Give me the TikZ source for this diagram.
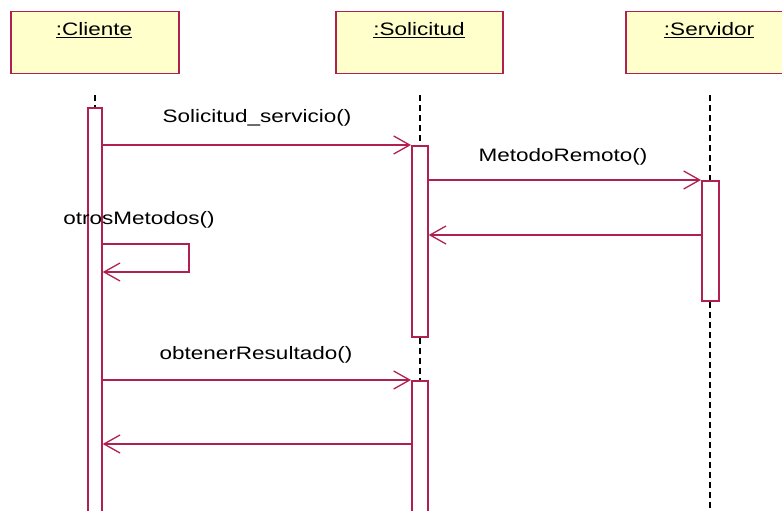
\documentclass[tikz,border=0pt]{standalone}
\usepackage{fontspec}
\setmainfont{Liberation Sans}[FakeStretch=1.25]
\usetikzlibrary{arrows.meta}
\definecolor{umlred}{RGB}{176,32,80}
\definecolor{umlyellow}{RGB}{255,255,204}
\tikzset{
  objbox/.style={draw=umlred, fill=umlyellow, line width=1.5pt, minimum height=62pt, anchor=north west, inner sep=0},
  actbar/.style={draw=umlred, fill=white, line width=1.7pt, anchor=north west, inner sep=0},
  lifeline/.style={dash pattern=on 6pt off 4pt, line width=1.1pt},
  msg/.style={draw=umlred, line width=1.4pt, -{Straight Barb[length=16pt,width=18pt,line width=1.3pt]}},
  lbl/.style={font=\fontsize{18}{20}\selectfont, inner sep=0}
}
\begin{document}
\begin{tikzpicture}[x=1pt, y=-1pt]
  \useasboundingbox (0,0) rectangle (782,511);
  \clip (0,0) rectangle (782,511);

  % Object heads
  \node[objbox, minimum width=168pt] (cliente) at (10,11) {};
  \node[objbox, minimum width=167pt] (solicitud) at (335,11) {};
  \node[objbox, minimum width=170pt] (servidor) at (625,11) {};
  \node[lbl] (clienteT) at (94,30) {\underline{:Cliente}};
  \node[lbl] (solicitudT) at (419,30) {\underline{:Solicitud}};
  \node[lbl] (servidorT) at (709,30) {\underline{:Servidor}};

  % Activation bars
  \node[actbar, minimum width=14pt, minimum height=410pt] (cbar) at (87,107) {};
  \node[actbar, minimum width=16pt, minimum height=191pt] (sbar1) at (411,145) {};
  \node[actbar, minimum width=16pt, minimum height=135pt] (sbar2) at (411,380) {};
  \node[actbar, minimum width=17pt, minimum height=120pt] (vbar) at (701,180) {};

  % Lifelines
  \coordinate (cl) at (95,95);
  \coordinate (sl) at (420,95);
  \coordinate (vl) at (710,95);
  \coordinate (vend) at (710,515);
  \draw[lifeline] (cl) -- (cl |- cbar.north);
  \draw[lifeline] (sl) -- (sl |- sbar1.north);
  \draw[lifeline] (sl |- sbar1.south) -- (sl |- sbar2.north);
  \draw[lifeline] (vl) -- (vl |- vbar.north);
  \draw[lifeline] (vl |- vbar.south) -- (vend);

  % Messages
  \coordinate (ret1) at (0,235);
  \coordinate (self1) at (189,244);
  \coordinate (self2) at (189,272);
  \coordinate (ret2) at (0,444);
  \draw[msg] (cbar.east |- sbar1.north west) -- (sbar1.north west);
  \draw[msg] (sbar1.east |- vbar.north west) -- (vbar.north west);
  \draw[msg] (vbar.west |- ret1) -- (sbar1.east |- ret1);
  \draw[msg] (cbar.east |- self1) -- (self1) -- (self2) -- (cbar.east |- self2);
  \draw[msg] (cbar.east |- sbar2.north west) -- (sbar2.north west);
  \draw[msg] (sbar2.west |- ret2) -- (cbar.east |- ret2);

  % Message labels
  \node[lbl] (m1) at (257,118) {Solicitud\_servicio()};
  \node[lbl] (m2) at (563,157) {MetodoRemoto()};
  \node[lbl] (m3) at (139,220) {otrosMetodos()};
  \node[lbl] (m4) at (256,355) {obtenerResultado()};
\end{tikzpicture}
\end{document}
